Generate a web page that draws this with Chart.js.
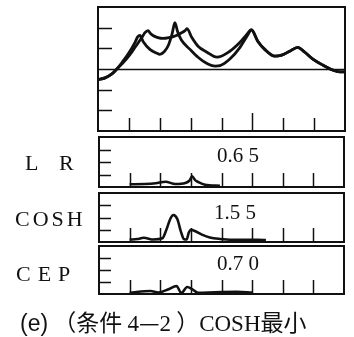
<!DOCTYPE html>
<html>
<head>
<meta charset="utf-8">
<script src="https://cdn.jsdelivr.net/npm/chart.js@4.4.1/dist/chart.umd.min.js"></script>
<style>
  body { margin: 0; background: #fff; }
  #wrap { position: relative; width: 354px; height: 337px; overflow: hidden; }
  canvas { position: absolute; left: 0; }
  .lab { position: absolute; font-family: 'Liberation Serif', serif; font-size: 22px; color: #111; line-height: 1; white-space: pre; }
  .num { position: absolute; font-family: 'Liberation Serif', serif; font-size: 21px; color: #111; line-height: 1; white-space: pre; }
  #cap { position: absolute; left: 20px; top: 310px; font-size: 23px; color: #111; line-height: 1; white-space: pre; }
  #cap .s { font-family: 'Liberation Sans', sans-serif; }
  #cap .c { font-family: 'Noto Sans CJK SC', sans-serif; }
  #cap .r { font-family: 'Liberation Serif', serif; }
</style>
</head>
<body>
<div id="wrap">
  <canvas id="graficoPrincipal" width="354" height="136" style="top:0px"></canvas>
  <canvas id="graficoLR" width="354" height="58" style="top:133px"></canvas>
  <canvas id="graficoCOSH" width="354" height="57" style="top:189px"></canvas>
  <canvas id="graficoCEP" width="354" height="56" style="top:242px"></canvas>

  <div class="lab" style="left:25px; top:152px;">L</div>
  <div class="lab" style="left:59px; top:152px;">R</div>
  <div class="lab" style="left:15px; top:208px; letter-spacing:3px;">COSH</div>
  <div class="lab" style="left:16px; top:263px; letter-spacing:7px;">CEP</div>

  <div class="num" style="left:217px; top:145px;">0.6 5</div>
  <div class="num" style="left:214px; top:202px;">1.5 5</div>
  <div class="num" style="left:217px; top:253px;">0.7 0</div>

  <div id="cap"><span class="s">(e)</span><span class="c"> （条件 </span><span class="r">4</span><span class="c">—</span><span class="r">2</span><span class="c"> ）</span><span class="r">COSH</span><span class="c">最小</span></div>
</div>

<script>
// ejes
const xTicks = [1, 2, 3, 4, 5, 6, 7];
const mainYTicks = [-2, -1, 0, 1, 2];
const panelYTicks = [1, 2, 3];

// curva A (panel principal)
const curvaAX = [0, 0.23, 0.45, 0.61, 0.81, 0.97, 1.2, 1.29, 1.36, 1.46, 1.68, 1.91, 2.0, 2.15, 2.28, 2.4, 2.49, 2.58, 2.7, 2.98, 3.24, 3.56, 3.8, 3.95, 4.27, 4.6, 4.82, 4.97, 5.18, 5.4, 5.73, 5.95, 6.21, 6.47, 6.7, 6.96, 7.28, 7.6, 7.83, 8];
const curvaAY = [-0.52, -0.43, -0.24, 0, 0.38, 0.71, 1.29, 1.57, 1.62, 1.33, 0.95, 0.76, 0.71, 0.85, 1.15, 1.7, 2.24, 1.8, 1.4, 0.95, 0.57, 0.24, 0.14, 0.16, 0.48, 1.05, 1.57, 1.88, 1.33, 0.95, 0.62, 0.67, 0.86, 1.05, 0.81, 0.48, 0.19, -0.05, -0.14, -0.14];

// curva B (panel principal)
const curvaBX = [0, 0.23, 0.45, 0.61, 0.81, 1.04, 1.2, 1.42, 1.52, 1.62, 1.7, 1.78, 1.94, 2.1, 2.3, 2.5, 2.7, 2.82, 2.88, 3.04, 3.24, 3.53, 3.85, 4.27, 4.6, 4.82, 4.97, 5.18, 5.4, 5.73, 5.95, 6.21, 6.47, 6.7, 6.96, 7.28, 7.6, 7.83, 8];
const curvaBY = [-0.52, -0.43, -0.24, 0, 0.3, 0.71, 1.05, 1.52, 1.76, 1.86, 1.72, 1.62, 1.52, 1.48, 1.52, 1.6, 1.75, 1.86, 1.95, 1.52, 1.1, 0.81, 0.57, 0.86, 1.29, 1.67, 1.9, 1.33, 0.95, 0.62, 0.67, 0.86, 1.05, 0.81, 0.48, 0.19, -0.05, -0.14, -0.14];

// paneles inferiores
const lrX = [1.0, 1.5, 1.85, 2.17, 2.49, 2.82, 2.95, 3.04, 3.14, 3.24, 3.46, 3.95];
const lrY = [0.22, 0.24, 0.3, 0.42, 0.24, 0.32, 0.5, 0.85, 0.55, 0.4, 0.18, 0.1];

const coshX = [1.0, 1.25, 1.46, 1.78, 2.07, 2.2, 2.33, 2.43, 2.56, 2.68, 2.78, 2.86, 2.93, 3.0, 3.13, 3.36, 3.62, 3.95, 4.6, 5.2, 5.45];
const coshY = [0.2, 0.24, 0.35, 0.2, 0.3, 1.0, 1.9, 2.2, 1.85, 0.8, 0.22, 0.2, 0.75, 1.0, 0.9, 0.6, 0.36, 0.25, 0.18, 0.18, 0.15];

const cepX = [1.0, 1.68, 1.94, 2.27, 2.53, 2.69, 2.88, 3.04, 3.24, 3.8, 4.5, 5.0];
const cepY = [0.1, 0.25, 0.12, 0.4, 0.67, 0.08, 0.58, 0.4, 0.1, 0.15, 0.18, 0.12];

const tinta = '#111';

const puntos = (xs, ys) => xs.map((x, i) => ({ x: x, y: ys[i] }));

// marco, marcas interiores y linea de cero
const marco = {
    id: 'marco',
    beforeDatasetsDraw(chart, args, opts) {
        const { ctx, chartArea: a, scales } = chart;
        ctx.save();
        ctx.strokeStyle = tinta;
        ctx.lineWidth = 1.5;
        ctx.beginPath();
        opts.yTicks.forEach(v => {
            const y = Math.round(scales.y.getPixelForValue(v)) + 0.5;
            const largo = (opts.zero && v === 0) ? (a.right - a.left) : opts.yLen;
            ctx.moveTo(a.left, y);
            ctx.lineTo(a.left + largo, y);
        });
        opts.xTicks.forEach(v => {
            const x = Math.round(scales.x.getPixelForValue(v)) + 0.5;
            const largo = (opts.longAt === v) ? opts.xLen + 5 : opts.xLen;
            ctx.moveTo(x, a.bottom);
            ctx.lineTo(x, a.bottom - largo);
        });
        ctx.stroke();
        ctx.restore();
    },
    afterDatasetsDraw(chart) {
        const { ctx, chartArea: a } = chart;
        ctx.save();
        ctx.strokeStyle = tinta;
        ctx.lineWidth = 2;
        ctx.strokeRect(a.left, a.top, a.right - a.left, a.bottom - a.top);
        ctx.restore();
    }
};

const configuracion = (datasets, yMin, yMax, padding, frame) => ({
    type: 'line',
    data: { datasets: datasets },
    options: {
        responsive: false,
        animation: false,
        events: [],
        layout: { padding: padding },
        elements: {
            point: { radius: 0 },
            line: { borderColor: tinta, borderWidth: 2.6, cubicInterpolationMode: 'monotone', fill: false }
        },
        scales: {
            x: { type: 'linear', min: 0, max: 8, display: false },
            y: { type: 'linear', min: yMin, max: yMax, display: false }
        },
        plugins: {
            legend: { display: false },
            tooltip: { enabled: false },
            marco: frame
        }
    },
    plugins: [marco]
});

const panelPadding = { left: 99, right: 10, top: 4, bottom: 4 };
const panelFrame = { yTicks: panelYTicks, xTicks: xTicks, yLen: 12, xLen: 14, zero: false, longAt: null };

new Chart(document.getElementById('graficoPrincipal'), configuracion(
    [
        { data: puntos(curvaAX, curvaAY), borderColor: tinta, borderWidth: 2.8 },
        { data: puntos(curvaBX, curvaBY), borderColor: tinta, borderWidth: 2.8 }
    ],
    -3, 3,
    { left: 98, right: 9, top: 7, bottom: 5 },
    { yTicks: mainYTicks, xTicks: xTicks, yLen: 14, xLen: 13, zero: true, longAt: 5 }
));

new Chart(document.getElementById('graficoLR'), configuracion(
    [{ data: puntos(lrX, lrY) }], 0, 4, panelPadding, panelFrame
));

new Chart(document.getElementById('graficoCOSH'), configuracion(
    [{ data: puntos(coshX, coshY) }], 0, 4, panelPadding, panelFrame
));

new Chart(document.getElementById('graficoCEP'), configuracion(
    [{ data: puntos(cepX, cepY) }], 0, 4, panelPadding, panelFrame
));
</script>
</body>
</html>
